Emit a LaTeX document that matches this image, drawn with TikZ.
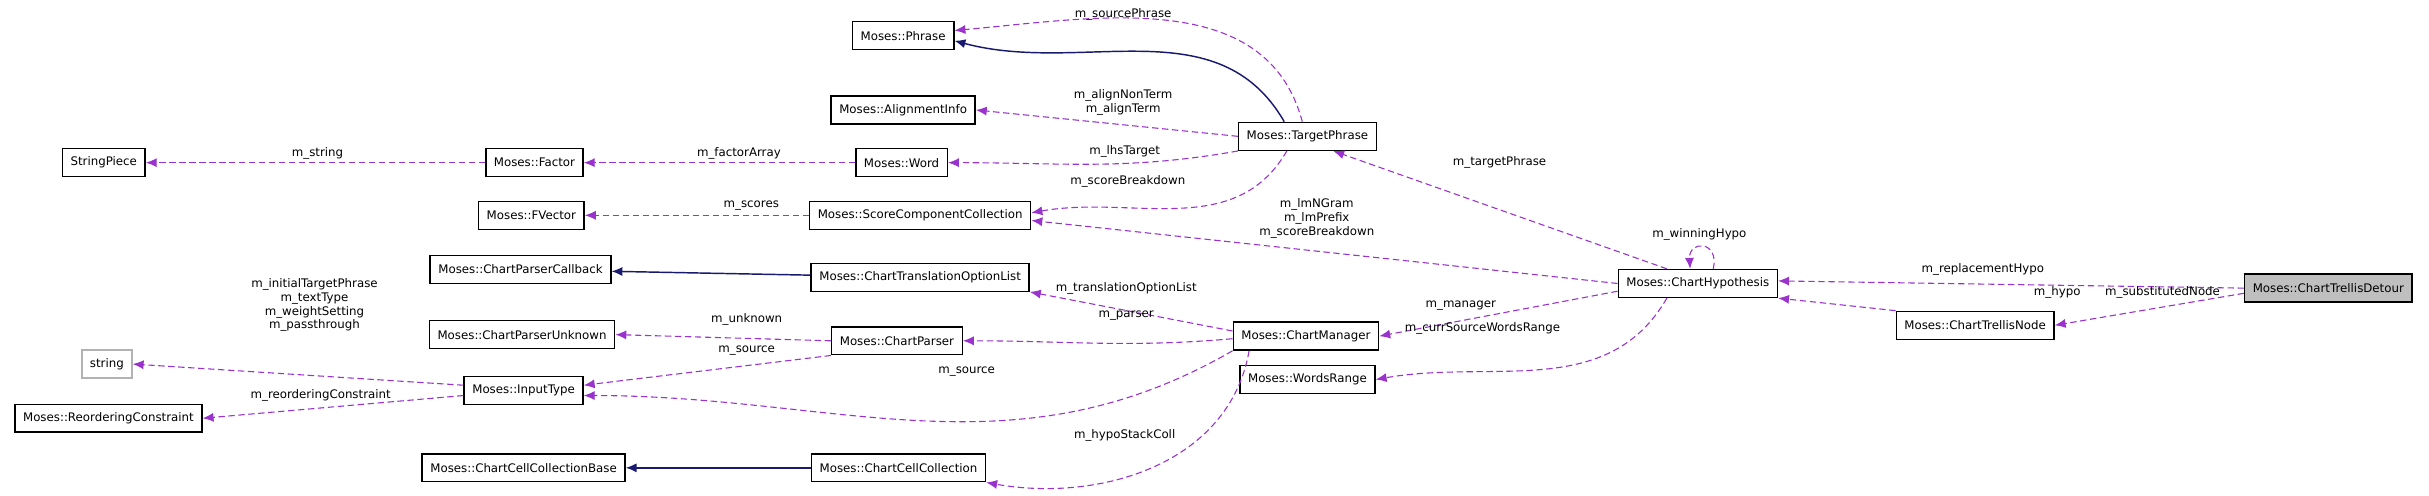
\documentclass[tikz,border=0pt]{standalone}
\usepackage{fontspec}
\setmainfont{DejaVu Sans}
\usetikzlibrary{arrows.meta}
\definecolor{refcolor}{HTML}{9A32CD}
\definecolor{inhcolor}{HTML}{191970}
\tikzset{
	cls/.style = {draw, thick, fill=white, minimum height=0.54cm, inner xsep=4.5pt, font=\fontsize{6.5}{7}\selectfont},
	lbl/.style = {font=\fontsize{6.5}{7.5}\selectfont, align=center, inner sep=0pt},
	uses/.style = {draw=refcolor, semithick, dash pattern=on 3.5pt off 2pt, -{Latex[length=6pt,width=5pt]}},
	inherits/.style = {draw=inhcolor, thick, -{Latex[length=6pt,width=5pt]}}
}
\begin{document}
\begin{tikzpicture}[x=0.03cm, y=0.03cm]
	\useasboundingbox (0,0) rectangle (1568,-320);
	% classes
	\node[cls] (phrase) at (583,-23) {Moses::Phrase};
	\node[cls] (align) at (583,-71) {Moses::AlignmentInfo};
	\node[cls] (strpiece) at (67,-105) {StringPiece};
	\node[cls] (factor) at (345,-105) {Moses::Factor};
	\node[cls] (word) at (582,-105) {Moses::Word};
	\node[cls] (tphrase) at (844,-88) {Moses::TargetPhrase};
	\node[cls] (fvector) at (343,-139) {Moses::FVector};
	\node[cls] (scc) at (594,-139) {Moses::ScoreComponentCollection};
	\node[cls] (callback) at (336,-174) {Moses::ChartParserCallback};
	\node[cls] (tolist) at (594,-179) {Moses::ChartTranslationOptionList};
	\node[cls] (hypo) at (1096,-183) {Moses::ChartHypothesis};
	\node[cls, fill=black!25] (detour) at (1503,-186) {Moses::ChartTrellisDetour};
	\node[cls] (unknown) at (337,-216) {Moses::ChartParserUnknown};
	\node[cls] (parser) at (579,-220) {Moses::ChartParser};
	\node[cls] (manager) at (843,-217) {Moses::ChartManager};
	\node[cls] (tnode) at (1275,-210) {Moses::ChartTrellisNode};
	\node[cls, draw=black!30] (string) at (69,-235) {string};
	\node[cls] (input) at (338,-252) {Moses::InputType};
	\node[cls] (range) at (844,-245) {Moses::WordsRange};
	\node[cls] (reorder) at (70,-270) {Moses::ReorderingConstraint};
	\node[cls] (cellbase) at (338,-302) {Moses::ChartCellCollectionBase};
	\node[cls] (cellcoll) at (580,-302) {Moses::ChartCellCollection};
	% inheritance
	\draw[inherits] ([xshift=-0.45cm]tphrase.north) to[out=120,in=-15] ([yshift=-0.1cm]phrase.east);
	\draw[inherits] (tolist) -- (callback);
	\draw[inherits] (cellcoll) -- (cellbase);
	% members
	\draw[uses] ([xshift=-0.1cm]tphrase.north) to[out=105,in=5] ([yshift=0.1cm]phrase.east);
	\draw[uses] (tphrase.west) -- (align.east);
	\draw[uses] (tphrase.south west) to[out=190,in=0] (word.east);
	\draw[uses] ([xshift=-0.4cm]tphrase.south) to[out=-120,in=10] ([yshift=0.05cm]scc.east);
	\draw[uses] (word) -- (factor);
	\draw[uses] (factor) -- (strpiece);
	\draw[uses] (scc) -- (fvector);
	\draw[uses] (hypo.west) -- ([yshift=-0.1cm]scc.east);
	\draw[uses] ([xshift=-0.6cm]hypo.north) -- ([xshift=0.5cm]tphrase.south);
	\draw[uses] ([xshift=0.3cm]hypo.north) .. controls (1110,-155) and (1090,-155) .. ([xshift=-0.15cm]hypo.north);
	\draw[uses] ([yshift=-0.15cm]hypo.west) -- (manager.east);
	\draw[uses] ([xshift=-0.6cm]hypo.south) to[out=-120,in=10] (range.east);
	\draw[uses] (detour.west) -- ([yshift=0.05cm]hypo.east);
	\draw[uses] ([yshift=-0.1cm]detour.west) -- (tnode.east);
	\draw[uses] (tnode.north west) -- (hypo.south east);
	\draw[uses] ([yshift=0.1cm]manager.west) -- (tolist.south east);
	\draw[uses] ([yshift=-0.05cm]manager.west) to[out=185,in=0] (parser.east);
	\draw[uses] (manager.south west) to[out=-150,in=0] ([yshift=-0.1cm]input.east);
	\draw[uses] ([xshift=-1.1cm]manager.south) to[out=-100,in=-10] (cellcoll.south east);
	\draw[uses] (parser.west) -- (unknown.east);
	\draw[uses] (parser.south west) -- ([yshift=0.1cm]input.east);
	\draw[uses] ([yshift=0.1cm]input.west) -- (string.east);
	\draw[uses] ([yshift=-0.1cm]input.west) -- (reorder.east);
	% labels
	\node[lbl] (lsrc) at (725,-9) {m\_sourcePhrase};
	\node[lbl] (lalign) at (725,-66) {m\_alignNonTerm\\m\_alignTerm};
	\node[lbl] (llhs) at (726,-98) {m\_lhsTarget};
	\node[lbl] (lsb) at (728,-117) {m\_scoreBreakdown};
	\node[lbl] (lstr) at (205,-99) {m\_string};
	\node[lbl] (lfac) at (477,-99) {m\_factorArray};
	\node[lbl] (lsco) at (485,-133) {m\_scores};
	\node[lbl] (llm) at (850,-141) {m\_lmNGram\\m\_lmPrefix\\m\_scoreBreakdown};
	\node[lbl] (ltp) at (968,-105) {m\_targetPhrase};
	\node[lbl] (lwin) at (1097,-151) {m\_winningHypo};
	\node[lbl] (lrep) at (1280,-174) {m\_replacementHypo};
	\node[lbl] (lsub) at (1396,-189) {m\_substitutedNode};
	\node[lbl] (lhyp) at (1328,-189) {m\_hypo};
	\node[lbl] (lman) at (943,-197) {m\_manager};
	\node[lbl] (lcsr) at (957,-212) {m\_currSourceWordsRange};
	\node[lbl] (ltol) at (727,-186) {m\_translationOptionList};
	\node[lbl] (lpar) at (727,-204) {m\_parser};
	\node[lbl] (lunk) at (482,-206) {m\_unknown};
	\node[lbl] (lsrc1) at (482,-226) {m\_source};
	\node[lbl] (lsrc2) at (624,-240) {m\_source};
	\node[lbl] (lhsc) at (726,-281) {m\_hypoStackColl};
	\node[lbl] (litp) at (203,-197) {m\_initialTargetPhrase\\m\_textType\\m\_weightSetting\\m\_passthrough};
	\node[lbl] (lreo) at (207,-255) {m\_reorderingConstraint};
\end{tikzpicture}
\end{document}
